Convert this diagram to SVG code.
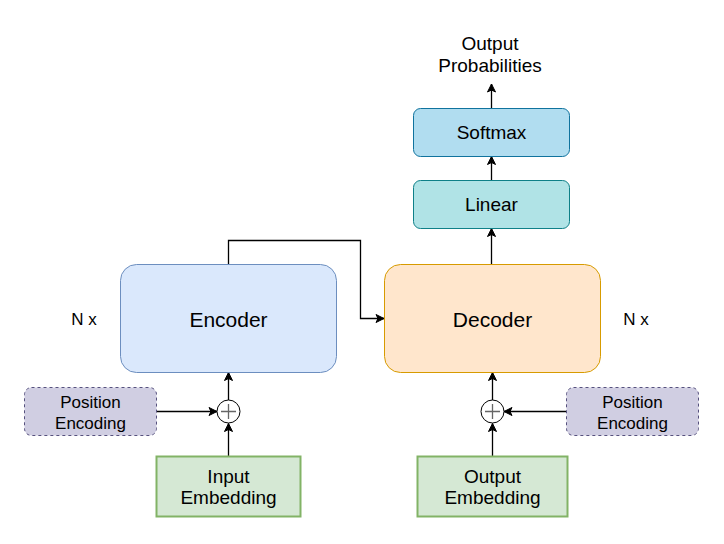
<svg xmlns="http://www.w3.org/2000/svg" width="724" height="544" viewBox="0 0 724 544">
<defs>
<marker id="arr" markerUnits="userSpaceOnUse" markerWidth="10" markerHeight="10" viewBox="0 0 10 10" refX="9" refY="5" orient="auto">
<path d="M1,1 L9,5 L1,9 L3,5 z" fill="#000" stroke="#000" stroke-width="1" stroke-linejoin="miter"/>
</marker>
</defs>
<style>
text{font-family:"Liberation Sans",Arial,Helvetica,sans-serif;fill:#000;text-anchor:middle}
.t19{font-size:19px}
.t17{font-size:17px}
.t21{font-size:21px}
.edge{fill:none;stroke:#000;stroke-width:1.3;marker-end:url(#arr)}
.pe{fill:#d0cee2;stroke:#56517e;stroke-width:1;stroke-dasharray:3 3}
.emb{fill:#d5e8d4;stroke:#82b366;stroke-width:2}
.sum{fill:#fff;stroke:#000;stroke-width:1}
.plus{stroke:#666;stroke-width:1.3}
</style>
<rect width="724" height="544" fill="#fff"/>
<g id="connectors">
<path class="edge" d="M228.5,264.5 V240.5 H360.5 V318.5 H384"/>
<path class="edge" d="M228.5,456.5 V423.5"/>
<path class="edge" d="M228.5,400 V372.5"/>
<path class="edge" d="M156.5,411.5 H217"/>
<path class="edge" d="M492.5,456.5 V423.5"/>
<path class="edge" d="M492.5,400 V372.5"/>
<path class="edge" d="M566.5,411.5 H504"/>
<path class="edge" d="M491.5,264.5 V228.5"/>
<path class="edge" d="M491.5,180.5 V156.5"/>
<path class="edge" d="M491.5,108.5 V84"/>
</g>
<g id="encoder">
<rect x="120.5" y="264.5" width="216" height="108" rx="16" ry="16" fill="#dae8fc" stroke="#6c8ebf"/>
<text class="t21" x="228.5" y="326.5">Encoder</text>
</g>
<g id="decoder">
<rect x="384.5" y="264.5" width="216" height="108" rx="16" ry="16" fill="#ffe6cc" stroke="#d79b00"/>
<text class="t21" x="492.5" y="326.5">Decoder</text>
</g>
<g id="nx-left"><text class="t17" x="84" y="325">N x</text></g>
<g id="nx-right"><text class="t17" x="636" y="325">N x</text></g>
<g id="pos-enc-left">
<rect class="pe" x="24.5" y="387.5" width="132" height="48" rx="7" ry="7"/>
<text class="t17" x="90.5" y="408">Position</text>
<text class="t17" x="90.5" y="429">Encoding</text>
</g>
<g id="pos-enc-right">
<rect class="pe" x="566.5" y="387.5" width="132" height="48" rx="7" ry="7"/>
<text class="t17" x="632.5" y="408">Position</text>
<text class="t17" x="632.5" y="429">Encoding</text>
</g>
<g id="sum-left">
<circle class="sum" cx="228.5" cy="411.5" r="11.5"/>
<path class="plus" d="M221,411.5 H236 M228.5,404 V419"/>
</g>
<g id="sum-right">
<circle class="sum" cx="492.5" cy="411.5" r="11.5"/>
<path class="plus" d="M485,411.5 H500 M492.5,404 V419"/>
</g>
<g id="input-embedding">
<rect class="emb" x="156.5" y="456.5" width="144" height="60"/>
<text class="t19" x="228.5" y="482.5">Input</text>
<text class="t19" x="228.5" y="504">Embedding</text>
</g>
<g id="output-embedding">
<rect class="emb" x="417.5" y="456.5" width="150" height="60"/>
<text class="t19" x="492.5" y="482.5">Output</text>
<text class="t19" x="492.5" y="504">Embedding</text>
</g>
<g id="linear">
<rect x="413.5" y="180.5" width="156" height="48" rx="7" ry="7" fill="#b0e3e6" stroke="#0e8088"/>
<text class="t19" x="491.5" y="211">Linear</text>
</g>
<g id="softmax">
<rect x="413.5" y="108.5" width="156" height="48" rx="7" ry="7" fill="#b1ddf0" stroke="#10739e"/>
<text class="t19" x="491.5" y="139">Softmax</text>
</g>
<g id="output-probabilities">
<text class="t19" x="490" y="49.5">Output</text>
<text class="t19" x="490" y="72">Probabilities</text>
</g>
</svg>
